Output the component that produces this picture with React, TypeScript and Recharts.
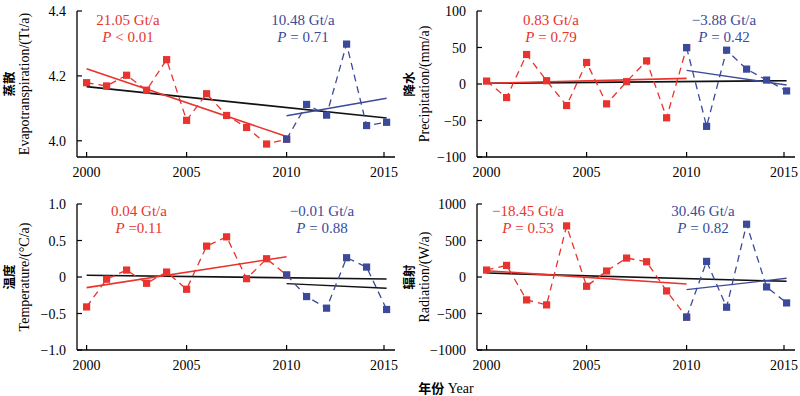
import { LineChart, Line, XAxis, YAxis } from "recharts";

const years = [2000, 2001, 2002, 2003, 2004, 2005, 2006, 2007, 2008, 2009, 2010, 2011, 2012, 2013, 2014, 2015];
const xTicks = [2000, 2005, 2010, 2015];

// evapotranspiration
const etRed = [4.179, 4.169, 4.202, 4.156, 4.25, 4.063, 4.145, 4.078, 4.041, 3.99, 4.005];
const etBlue = [4.005, 4.112, 4.079, 4.298, 4.047, 4.057];
const etRedTrend = [4.222, 4.013];
const etBlueTrend = [4.077, 4.131];
const etAllTrend = [4.167, 4.07];

// precipitation
const prRed = [4, -18.6, 40.4, 4.5, -29.5, 29.5, -27.2, 3.2, 31.7, -46.3, 49.9];
const prBlue = [49.9, -58, 46.3, 20.4, 5.4, -9.5];
const prRedTrend = [1, 7.7];
const prBlueTrend = [18.6, -1.4];
const prAllTrend = [1, 4.5];

// temperature
const tmRed = [-0.41, -0.03, 0.095, -0.086, 0.068, -0.168, 0.423, 0.55, -0.023, 0.25, 0.027];
const tmBlue = [0.027, -0.268, -0.427, 0.264, 0.136, -0.445];
const tmRedTrend = [-0.145, 0.277];
const tmBlueTrend = [-0.091, -0.155];
const tmAllTrend = [0.023, -0.027];

// radiation
const rdRed = [95, 159, -314, -382, 700, -127, 82, 259, 209, -191, -550];
const rdBlue = [-550, 214, -414, 723, -136, -355];
const rdRedTrend = [86, -95];
const rdBlueTrend = [-173, -18];
const rdAllTrend = [55, -59];

const RED = "#e8332e";
const BLUE = "#3b4a9a";
const SERIF = "'Liberation Serif', 'Times New Roman', 'Noto Sans CJK SC', serif";
const CJK = "'Noto Sans CJK SC', sans-serif";

const fmtMinus = (s: string) => s.replace("-", "\u2212");

const toPts = (vals: number[], yrs: number[]) => vals.map((v, i) => ({ year: yrs[i], v }));

const SquareDot = (color: string) => (props: any) => {
  const { cx, cy, index } = props;
  if (cx == null || cy == null) return <g key={index} />;
  return <rect key={index} x={cx - 3.6} y={cy - 3.6} width={7.2} height={7.2} fill={color} />;
};

const XTick = (props: any) => {
  const { x, y, payload } = props;
  return (
    <g>
      <line x1={x} y1={y} x2={x} y2={y - 5} stroke="#000" strokeWidth={1.2} />
      <text x={x} y={y + 20} textAnchor="middle" fontSize={14} fontFamily={SERIF} fill="#000">
        {payload.value}
      </text>
    </g>
  );
};

const makeYTick = (fmt: (v: number) => string) => (props: any) => {
  const { x, y, payload } = props;
  return (
    <g>
      <line x1={x} y1={y} x2={x + 5} y2={y} stroke="#000" strokeWidth={1.2} />
      <text x={x - 11} y={y + 5} textAnchor="end" fontSize={14} fontFamily={SERIF} fill="#000">
        {fmtMinus(fmt(payload.value))}
      </text>
    </g>
  );
};

interface PanelProps {
  left: number;
  top: number;
  red: number[];
  blue: number[];
  redTrend: number[];
  blueTrend: number[];
  allTrend: number[];
  domain: [number, number];
  ticks: number[];
  fmt: (v: number) => string;
  secondTrendColor: string;
}

function Panel(p: PanelProps) {
  return (
    <div style={{ position: "absolute", left: p.left, top: p.top }}>
      <LineChart width={400} height={180} margin={{ top: 11, right: 5, bottom: 0, left: 0 }}>
        <XAxis
          dataKey="year"
          type="number"
          domain={[1999.52, 2015.42]}
          ticks={xTicks}
          allowDataOverflow
          height={23}
          tickLine={false}
          tickSize={0}
          tickMargin={0}
          tick={<XTick />}
          axisLine={{ stroke: "#000", strokeWidth: 1.3 }}
        />
        <YAxis
          type="number"
          domain={p.domain}
          ticks={p.ticks}
          allowDataOverflow
          width={77}
          tickLine={false}
          tickSize={0}
          tickMargin={0}
          tick={makeYTick(p.fmt)}
          axisLine={{ stroke: "#000", strokeWidth: 1.3 }}
        />
        <Line
          data={toPts(p.allTrend, [2000, 2015])}
          dataKey="v"
          stroke="#111"
          strokeWidth={1.6}
          dot={false}
          isAnimationActive={false}
        />
        <Line
          data={toPts(p.redTrend, [2000, 2010])}
          dataKey="v"
          stroke={RED}
          strokeWidth={1.6}
          dot={false}
          isAnimationActive={false}
        />
        <Line
          data={toPts(p.blueTrend, [2010, 2015])}
          dataKey="v"
          stroke={p.secondTrendColor}
          strokeWidth={1.4}
          dot={false}
          isAnimationActive={false}
        />
        <Line
          data={toPts(p.red, years.slice(0, 11))}
          dataKey="v"
          stroke={RED}
          strokeWidth={1.3}
          strokeDasharray="7 5"
          dot={SquareDot(RED)}
          isAnimationActive={false}
        />
        <Line
          data={toPts(p.blue, years.slice(10))}
          dataKey="v"
          stroke={BLUE}
          strokeWidth={1.3}
          strokeDasharray="7 5"
          dot={SquareDot(BLUE)}
          isAnimationActive={false}
        />
      </LineChart>
    </div>
  );
}

function Note(props: { x: number; y: number; color: string; rate: string; p: string }) {
  return (
    <g fill={props.color} fontFamily={SERIF} fontSize={15} textAnchor="middle">
      <text x={props.x} y={props.y}>{props.rate}</text>
      <text x={props.x} y={props.y + 17}>
        <tspan fontStyle="italic">P</tspan>
        {props.p}
      </text>
    </g>
  );
}

function YTitle(props: { x: number; y: number; zh: string; en: string }) {
  return (
    <g fill="#000">
      <text
        transform={`translate(${props.x + 14},${props.y}) rotate(-90)`}
        textAnchor="middle"
        fontSize={12.5}
        fontFamily={CJK}
        fontWeight={700}
      >
        {props.zh}
      </text>
      <text
        transform={`translate(${props.x + 29},${props.y}) rotate(-90)`}
        textAnchor="middle"
        fontSize={14}
        fontFamily={SERIF}
      >
        {props.en}
      </text>
    </g>
  );
}

export default function App() {
  return (
    <div style={{ position: "absolute", left: 0, top: 0, width: 800, height: 396, background: "#fff" }}>
      <Panel
        left={0}
        top={0}
        red={etRed}
        blue={etBlue}
        redTrend={etRedTrend}
        blueTrend={etBlueTrend}
        allTrend={etAllTrend}
        domain={[3.95, 4.4]}
        ticks={[4.0, 4.2, 4.4]}
        fmt={(v) => v.toFixed(1)}
        secondTrendColor={BLUE}
      />
      <Panel
        left={400}
        top={0}
        red={prRed}
        blue={prBlue}
        redTrend={prRedTrend}
        blueTrend={prBlueTrend}
        allTrend={prAllTrend}
        domain={[-100, 100]}
        ticks={[-100, -50, 0, 50, 100]}
        fmt={(v) => String(v)}
        secondTrendColor={BLUE}
      />
      <Panel
        left={0}
        top={193}
        red={tmRed}
        blue={tmBlue}
        redTrend={tmRedTrend}
        blueTrend={tmBlueTrend}
        allTrend={tmAllTrend}
        domain={[-1, 1]}
        ticks={[-1, -0.5, 0, 0.5, 1]}
        fmt={(v) => (v === 0 ? "0" : v.toFixed(1))}
        secondTrendColor="#111"
      />
      <Panel
        left={400}
        top={193}
        red={rdRed}
        blue={rdBlue}
        redTrend={rdRedTrend}
        blueTrend={rdBlueTrend}
        allTrend={rdAllTrend}
        domain={[-1000, 1000]}
        ticks={[-1000, -500, 0, 500, 1000]}
        fmt={(v) => String(v)}
        secondTrendColor={BLUE}
      />
      <svg
        width={800}
        height={396}
        style={{ position: "absolute", left: 0, top: 0, pointerEvents: "none" }}
      >
        <YTitle x={0} y={84} zh="蒸散" en="Evapotranspiration/(Tt/a)" />
        <YTitle x={400} y={84} zh="降水" en="Precipitation/(mm/a)" />
        <YTitle x={0} y={277} zh="温度" en="Temperature/(°C/a)" />
        <YTitle x={400} y={277} zh="辐射" en="Radiation/(W/a)" />

        <Note x={128} y={25} color={RED} rate="21.05 Gt/a" p=" < 0.01" />
        <Note x={303} y={25} color={BLUE} rate="10.48 Gt/a" p=" = 0.71" />
        <Note x={551} y={25} color={RED} rate="0.83 Gt/a" p=" = 0.79" />
        <Note x={724} y={25} color={BLUE} rate={"\u22123.88 Gt/a"} p=" = 0.42" />
        <Note x={139} y={216} color={RED} rate="0.04 Gt/a" p=" =0.11" />
        <Note x={322} y={216} color={BLUE} rate={"\u22120.01 Gt/a"} p=" = 0.88" />
        <Note x={528} y={216} color={RED} rate={"\u221218.45 Gt/a"} p=" = 0.53" />
        <Note x={703} y={216} color={BLUE} rate="30.46 Gt/a" p=" = 0.82" />

        <text x={446} y={393} textAnchor="middle" fontSize={14} fontFamily={SERIF} fill="#000">
          <tspan fontFamily={CJK} fontWeight={700} fontSize={13}>
            年份
          </tspan>
          {" Year"}
        </text>
      </svg>
    </div>
  );
}
